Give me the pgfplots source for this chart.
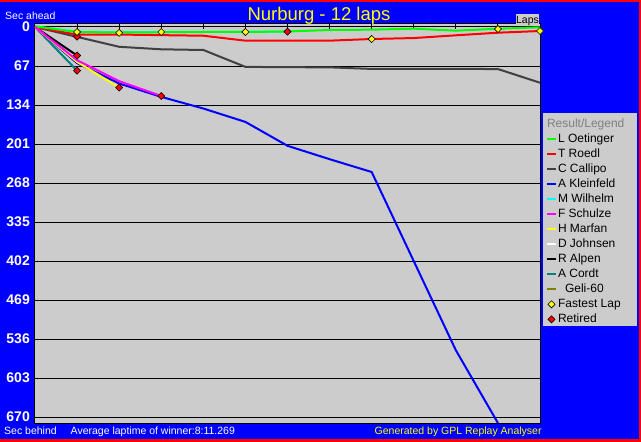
\documentclass[border=0pt]{standalone}
\usepackage{pgfplots}
\pgfplotsset{compat=1.18}
\usepackage{fontspec}
\setmainfont{Liberation Sans}
\definecolor{plotgray}{RGB}{204,204,204}
\definecolor{bgblue}{RGB}{0,0,255}
\definecolor{bgred}{RGB}{255,0,0}
\definecolor{cgreen}{RGB}{0,255,0}
\definecolor{cred}{RGB}{255,0,0}
\definecolor{cgray}{RGB}{64,64,64}
\definecolor{cblue}{RGB}{0,0,255}
\definecolor{ccyan}{RGB}{0,255,255}
\definecolor{cmag}{RGB}{255,0,255}
\definecolor{cyel}{RGB}{255,255,0}
\definecolor{cteal}{RGB}{0,128,128}
\definecolor{colive}{RGB}{128,128,0}
\definecolor{lgray}{RGB}{128,128,128}
\begin{document}
\begin{tikzpicture}
\useasboundingbox (-35pt,-19pt) rectangle (606pt,423pt);
\begin{scope}[shift={(-35pt,-19pt)}]
\fill[bgred] (0pt,0pt) rectangle (641pt,442pt);
\fill[bgblue] (0pt,3pt) rectangle (638.5pt,440pt);
\fill[plotgray] (543pt,115.5pt) rectangle (636.5pt,329pt);
\end{scope}
\begin{axis}[
  width=505pt, height=399.5pt, scale only axis,
  xmin=0, xmax=12, ymin=-6, ymax=680, y dir=reverse,
  axis background/.style={fill=plotgray},
  axis line style={black, line width=1pt},
  xtick={1,...,11}, xticklabels={}, xtick pos=right,
  xtick style={black, line width=1pt},
  tick align=inside, major tick length=6pt,
  ytick={0,67,...,670}, ytick pos=left, ytick style={draw=none},
  ymajorgrids, grid style={black, line width=1pt},
  /pgf/number format/assume math mode=true,
  yticklabel style={font=\fontsize{14}{14}\selectfont\bfseries, text=white, inner sep=0pt, anchor=east, xshift=-5pt},
  legend style={at={(1.0119,0.7627)}, anchor=north west, draw=none, fill=none,
    inner sep=0pt, outer sep=0pt, font=\fontsize{12}{12}\selectfont,
    row sep=3pt, column sep=1pt,
    nodes={inner sep=0pt, text height=9pt, text depth=3pt}},
  legend cell align=left,
  legend image code/.code={\draw[mark repeat=2,mark phase=2,#1] plot coordinates {(0pt,0pt)(4.5pt,0pt)(9pt,0pt)};},
]
% hidden / underlying series
\addplot[ccyan, line width=2pt, forget plot] coordinates {(0,-1)(1,8)(2,9)(3,8.5)(4,8.2)(5,8.2)(6,8)};
\addplot[white, line width=1.5pt, dash pattern=on 3pt off 2pt, forget plot] coordinates {(0,0)(1,16.6)};
\addplot[black, line width=2pt, forget plot] coordinates {(0,0)(1,49)};
\addplot[cteal, line width=2pt, forget plot] coordinates {(0,0)(1,75)};
\addplot[cgray, line width=2pt, forget plot] coordinates {(0,0)(1,17)(2,34)(3,38.3)(4,39.5)(5,68.5)(6,69)(7,69.3)(8,72)(9,72)(10,72)(11,72.2)(12,95.7)};
\addplot[cred, line width=2pt, forget plot] coordinates {(0,0)(1,13.2)(2,13)(3,14)(4,15)(5,23.5)(6,23.5)(7,23.5)(8,20.6)(9,19)(10,14.3)(11,9.8)(12,6.9)};
\addplot[cgreen, line width=2pt, forget plot] coordinates {(0,-1)(1,8.6)(2,9.5)(3,9)(4,8.6)(5,8.6)(6,7.7)(7,5.2)(8,4.6)(9,2.9)(10,6.3)(11,3)(12,0.5)};
\addplot[cblue, line width=2pt, forget plot] coordinates {(0,0)(1,62)(2,97)(3,120)(4,140)(5,163)(6,204)(7,227)(8,249)(9,402)(10,555)(11,680)};
\addplot[cyel, line width=2pt, forget plot] coordinates {(0,0)(1,60)(2,104)};
\addplot[cmag, line width=2pt, forget plot] coordinates {(0,0)(1,57)(2,93)(3,118.5)};
% markers
\addplot[only marks, mark=square*, mark size=2.5pt, mark options={rotate=45, fill=cred, draw=black, line width=0.6pt}, forget plot] coordinates {(1,16.6)(1,49)(1,75)(2,104)(3,118.5)(6,8)};
\addplot[only marks, mark=square*, mark size=2.5pt, mark options={rotate=45, fill=cyel, draw=black, line width=0.6pt}, forget plot] coordinates {(1,8.6)(2,10)(3,8.6)(5,8.6)(8,20.6)(11,3.4)(12,6.9)};
% legend
\addlegendimage{empty legend}\addlegendentry{\hspace*{-11pt}\textcolor{lgray}{Result/Legend}}
\addlegendimage{cgreen, line width=2pt}\addlegendentry{L Oetinger}
\addlegendimage{cred, line width=2pt}\addlegendentry{T Roedl}
\addlegendimage{cgray, line width=2pt}\addlegendentry{C Callipo}
\addlegendimage{cblue, line width=2pt}\addlegendentry{A Kleinfeld}
\addlegendimage{ccyan, line width=2pt}\addlegendentry{M Wilhelm}
\addlegendimage{cmag, line width=2pt}\addlegendentry{F Schulze}
\addlegendimage{cyel, line width=2pt}\addlegendentry{H Marfan}
\addlegendimage{white, line width=2pt}\addlegendentry{D Johnsen}
\addlegendimage{black, line width=2pt}\addlegendentry{R Alpen}
\addlegendimage{cteal, line width=2pt}\addlegendentry{A Cordt}
\addlegendimage{colive, line width=2pt}\addlegendentry{\hspace*{7pt}Geli-60}
\addlegendimage{only marks, mark=square*, mark size=2.5pt, mark options={rotate=45, fill=cyel, draw=black, line width=0.6pt}}\addlegendentry{Fastest Lap}
\addlegendimage{only marks, mark=square*, mark size=2.5pt, mark options={rotate=45, fill=cred, draw=black, line width=0.6pt}}\addlegendentry{Retired}
\end{axis}
\begin{scope}[shift={(-35pt,-19pt)}]
\node[anchor=base, text=cyel, font=\fontsize{18.5}{18.5}\selectfont, inner sep=0pt] at (319pt,421.3pt) {Nurburg - 12 laps};
\node[anchor=base west, text=white, font=\fontsize{10.5}{10.5}\selectfont, inner sep=0pt] at (5pt,422.7pt) {Sec ahead};
\fill[plotgray] (515.7pt,416.7pt) rectangle (539.3pt,428pt);
\node[anchor=base, text=black, font=\fontsize{10.5}{10.5}\selectfont, inner sep=0pt] at (527.5pt,418.5pt) {Laps};
\node[anchor=base west, text=white, font=\fontsize{10.5}{10.5}\selectfont, inner sep=0pt] at (4pt,7pt) {Sec behind};
\node[anchor=base west, text=white, font=\fontsize{10.5}{10.5}\selectfont, inner sep=0pt] at (70.5pt,7pt) {Average laptime of winner:8:11.269};
\node[anchor=base east, text=cyel, font=\fontsize{10.5}{10.5}\selectfont, inner sep=0pt] at (541.8pt,7pt) {Generated by GPL Replay Analyser};
\end{scope}
\end{tikzpicture}
\end{document}
